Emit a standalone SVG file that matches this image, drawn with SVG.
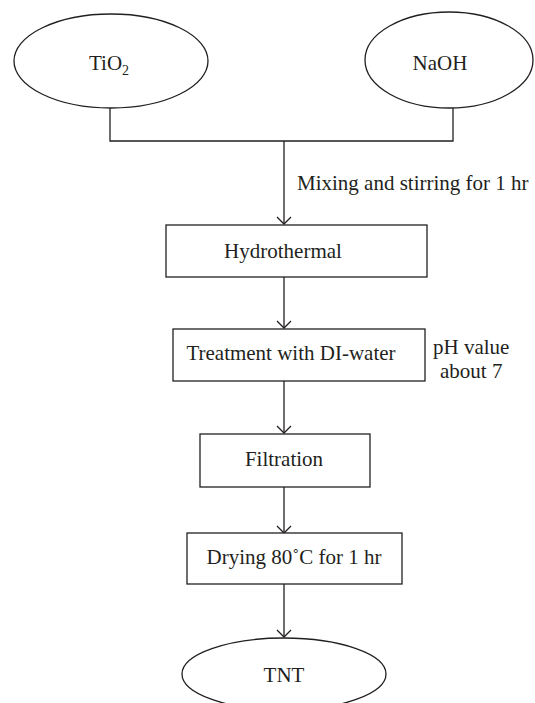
<svg xmlns="http://www.w3.org/2000/svg" width="535" height="703" viewBox="0 0 535 703">
<defs>
<marker id="arr" markerWidth="10" markerHeight="16" refX="8" refY="8" orient="auto" markerUnits="userSpaceOnUse" viewBox="0 0 10 16">
<polyline points="1,1 8,8 1,15" fill="none" stroke="#231f20" stroke-width="1.3"/>
</marker>
<style>
.s{fill:#fff;stroke:#231f20;stroke-width:1.3}
.l{fill:none;stroke:#231f20;stroke-width:1.3}
.a{fill:none;stroke:#231f20;stroke-width:1.3;marker-end:url(#arr)}
.t{font-family:"Liberation Serif",serif;font-size:21px;fill:#231f20}
.m{text-anchor:middle}
</style>
</defs>
<rect width="535" height="703" fill="#fff"/>
<g id="connectors">
<polyline class="l" points="110,108 110,141 453,141 453,108"/>
<line class="a" x1="284" y1="141" x2="284" y2="224"/>
<line class="a" x1="284" y1="277" x2="284" y2="328"/>
<line class="a" x1="284" y1="381" x2="284" y2="433"/>
<line class="a" x1="284" y1="487" x2="284" y2="533"/>
<line class="a" x1="284" y1="584" x2="284" y2="637"/>
<text class="t" x="297" y="190">Mixing and stirring for 1 hr</text>
<text class="t" x="433" y="354">pH value</text>
<text class="t" x="440" y="378">about 7</text>
</g>
<g id="tio2">
<ellipse class="s" cx="111" cy="61" rx="97" ry="47"/>
<text class="t" x="89" y="70">TiO<tspan font-size="14" dy="5">2</tspan></text>
</g>
<g id="naoh">
<ellipse class="s" cx="449" cy="60" rx="84" ry="48"/>
<text class="t m" x="440" y="70">NaOH</text>
</g>
<g id="hydrothermal">
<rect class="s" x="166" y="225" width="261" height="52"/>
<text class="t m" x="283" y="258">Hydrothermal</text>
</g>
<g id="treatment">
<rect class="s" x="173" y="329" width="252" height="52"/>
<text class="t m" x="291" y="360">Treatment with DI-water</text>
</g>
<g id="filtration">
<rect class="s" x="200" y="434" width="170" height="53"/>
<text class="t m" x="284" y="466">Filtration</text>
</g>
<g id="drying">
<rect class="s" x="187" y="533" width="215" height="51"/>
<text class="t m" x="294" y="564">Drying 80˚C for 1 hr</text>
</g>
<g id="tnt">
<ellipse class="s" cx="284" cy="674" rx="102" ry="36"/>
<text class="t m" x="284" y="682">TNT</text>
</g>
</svg>
